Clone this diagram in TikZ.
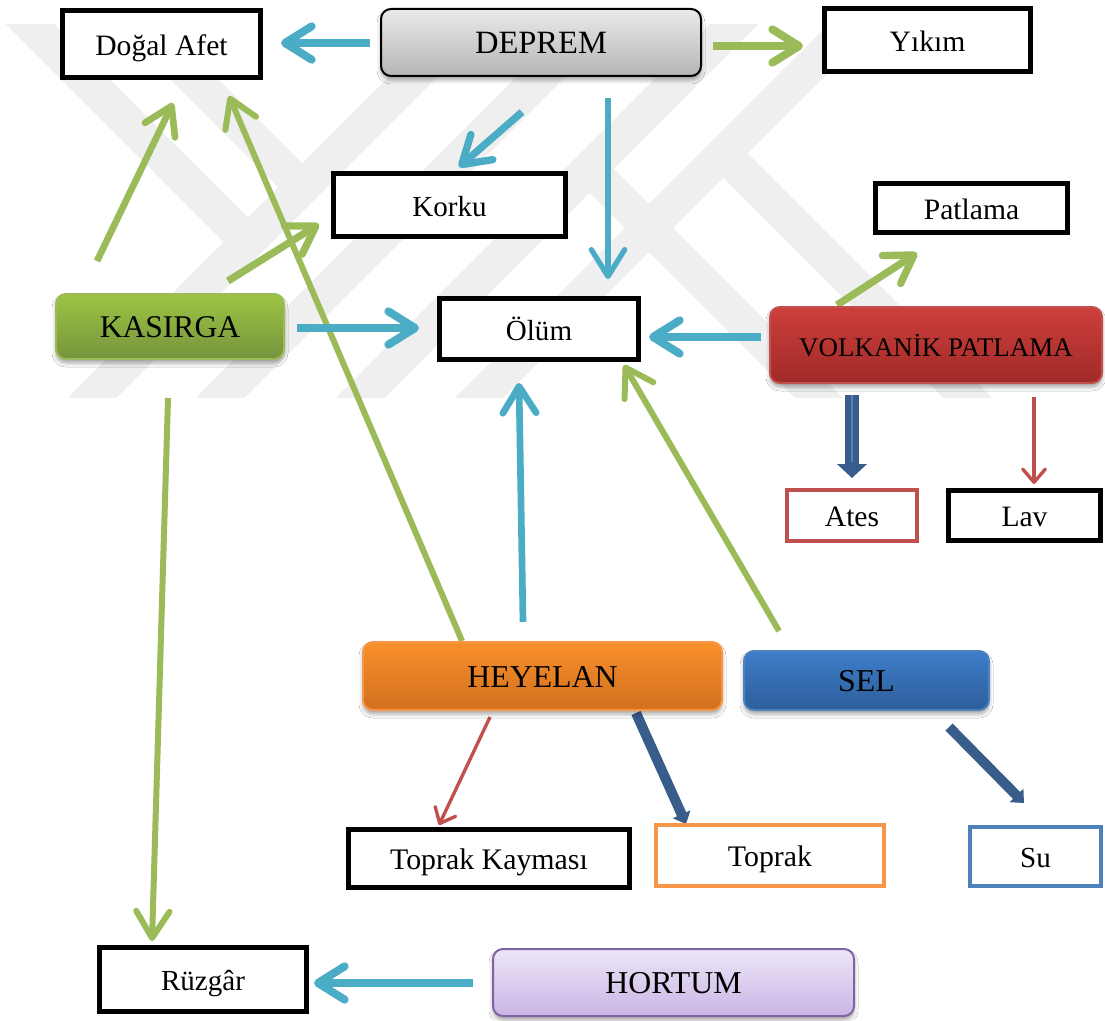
\documentclass[tikz,border=0pt]{standalone}
\usepackage{fontspec}
\setmainfont{Liberation Serif}
\usetikzlibrary{arrows.meta,calc,shadows.blur}

\definecolor{wmgray}{RGB}{239,239,239}
\definecolor{arrblue}{RGB}{75,172,198}
\definecolor{arrgreen}{RGB}{155,187,89}
\definecolor{navyarr}{RGB}{56,93,138}
\definecolor{navyhi}{RGB}{79,129,189}
\definecolor{arrred}{RGB}{192,80,77}
\definecolor{grayTop}{RGB}{234,234,234}
\definecolor{grayBot}{RGB}{181,181,181}
\definecolor{grnTop}{RGB}{157,197,68}
\definecolor{grnBot}{RGB}{118,147,60}
\definecolor{grnLine}{RGB}{155,187,89}
\definecolor{redTop}{RGB}{205,63,60}
\definecolor{redBot}{RGB}{160,42,40}
\definecolor{redLine}{RGB}{192,80,77}
\definecolor{orgTop}{RGB}{249,144,44}
\definecolor{orgBot}{RGB}{210,111,30}
\definecolor{orgLine}{RGB}{247,150,70}
\definecolor{bluTop}{RGB}{62,125,201}
\definecolor{bluBot}{RGB}{46,94,155}
\definecolor{bluLine}{RGB}{79,129,189}
\definecolor{purTop}{RGB}{237,230,247}
\definecolor{purBot}{RGB}{201,181,230}
\definecolor{purLine}{RGB}{128,100,162}

\newcommand\txtS{\fontsize{22.2pt}{26pt}\selectfont}
\newcommand\txtM{\fontsize{21.8pt}{26pt}\selectfont}
\newcommand\txtT{\fontsize{22.4pt}{26pt}\selectfont}
\newcommand\txtL{\fontsize{23.9pt}{28pt}\selectfont}
\newcommand\txtD{\fontsize{24.4pt}{28pt}\selectfont}
\newcommand\txtK{\fontsize{23.7pt}{28pt}\selectfont}
\newcommand\txtV{\fontsize{20.2pt}{24pt}\selectfont}

\pgfdeclarelayer{wmark}
\pgfdeclarelayer{links}
\pgfsetlayers{wmark,links,main}

\tikzset{
  boxtext/.style={inner sep=0pt, text height=17pt, text depth=0pt},
  blackbox/.style={boxtext, draw=black, line width=3.75pt, fill=white},
  framebox/.style={boxtext, draw=#1, line width=3pt, fill=white},
  roundbox/.style n args={3}{boxtext, draw=#1, line width=1.5pt, rounded corners=7.5pt,
    top color=#2, bottom color=#3,
    blur shadow={shadow xshift=0pt, shadow yshift=-3pt, shadow opacity=35,
      shadow blur radius=3pt}},
  wband/.style={wmgray, line width=25.5pt},
  fat/.style={line width=#1, -{Straight Barb[length=20pt, width=25pt, round]}},
  thin/.style={arrred, line width=2.5pt, -{Straight Barb[length=10pt, width=17pt, round]}},
  navy/.style={navyarr, line width=#1, -{Triangle[length=8pt, width=14pt]}},
}

\begin{document}
\begin{tikzpicture}[x=0.75pt, y=-0.75pt]
\useasboundingbox (0,0) rectangle (1105,1020);

% ---------- boxes ----------
\node[blackbox, minimum width=148.5pt, minimum height=50.25pt, font=\txtS] (doga) at (161.5,44) {Doğal Afet};
\node[roundbox={black}{grayTop}{grayBot}, minimum width=240pt, minimum height=50.25pt, font=\txtD] (dep) at (541,42.5) {DEPREM};
\node[blackbox, minimum width=154.5pt, minimum height=47.25pt, font=\txtS] (yik) at (927.5,40) {Yıkım};
\node[blackbox, minimum width=174pt, minimum height=47.25pt, font=\txtM] (kor) at (449.5,205) {Korku};
\node[blackbox, minimum width=144pt, minimum height=36.75pt, font=\txtS] (pat) at (971.5,208) {Patlama};
\node[roundbox={grnLine}{grnTop}{grnBot}, minimum width=171pt, minimum height=48.75pt, font=\txtK] (kas) at (170,326.5) {KASIRGA};
\node[blackbox, minimum width=149.25pt, minimum height=45.75pt, font=\txtM] (olum) at (539,329) {Ölüm};
\node[roundbox={redLine}{redTop}{redBot}, minimum width=249pt, minimum height=57pt, font=\txtV] (volk) at (936,345) {VOLKANİK PATLAMA};
\node[framebox=redLine, minimum width=97.5pt, minimum height=38.25pt, font=\txtS] (ates) at (852,515.5) {Ates};
\node[blackbox, minimum width=114pt, minimum height=37.5pt, font=\txtS] (lav) at (1024.5,515.5) {Lav};
\node[roundbox={orgLine}{orgTop}{orgBot}, minimum width=269.25pt, minimum height=51pt, font=\txtL] (hey) at (542.5,676) {HEYELAN};
\node[roundbox={bluLine}{bluTop}{bluBot}, minimum width=183.75pt, minimum height=44.25pt, font=\txtL] (sel) at (866.5,680.5) {SEL};
\node[blackbox, minimum width=210.75pt, minimum height=43.5pt, font=\txtT] (tk) at (489,858.5) {Toprak Kayması};
\node[framebox=orgLine, minimum width=171pt, minimum height=45.75pt, font=\txtT] (top) at (770,855.5) {Toprak};
\node[framebox=bluLine, minimum width=98.25pt, minimum height=44.25pt, font=\txtM] (su) at (1035.5,856.5) {Su};
\node[blackbox, minimum width=155.25pt, minimum height=48pt, font=\txtM] (ruz) at (203,979.5) {Rüzgâr};
\node[roundbox={purLine}{purTop}{purBot}, minimum width=270.75pt, minimum height=50.25pt, font=\txtL] (hor) at (673.5,982.5) {HORTUM};

% ---------- watermark bands ----------
\begin{pgfonlayer}{wmark}
  \fill[white] (0,0) rectangle (1105,1020);
  \begin{scope}
    \clip (0,25) rectangle (1010,397);
    % rising bands
    \draw[wband] (40,450) -- (510,-20);
    \draw[wband] (168,450) -- (638,-20);
    \draw[wband] (308,450) -- (778,-20);
    \draw[wband] (427,450) -- (897,-20);
    % falling bands
    \draw[wband] (-14,-20) -- (248,242);
    \draw[wband] (95,-20) -- (302.5,187.5);
    \draw[wband] (589.5,168.5) -- (871,450);
    \draw[wband] (723.5,153.5) -- (1020,450);
  \end{scope}
\end{pgfonlayer}

% ---------- connectors ----------
\begin{pgfonlayer}{links}
  \draw[fat=6pt, arrblue] ($(dep.west)+(-10,0.5)$) -- ($(doga.east)+(18,-1)$);
  \draw[fat=6pt, arrgreen] ($(dep.east)+(11,3.5)$) -- ($(yik.west)+(-19,6)$);
  \draw[fat=5.5pt, arrblue] ($(dep.south)+(-19,35)$) -- ($(kor.north)+(9.5,-4)$);
  \draw[fat=4pt, arrblue] ($(dep.south)+(67,21)$) -- ($(olum.north)+(69,-17)$);
  \draw[fat=5pt, arrgreen] ($(kas.north)+(-73,-32)$) -- ($(doga.south)+(11.5,23)$);
  \draw[fat=5.5pt, arrgreen] ($(kas.north)+(58,-12)$) -- ($(kor.west)+(-12,19)$);
  \draw[fat=4.5pt, arrgreen] ($(hey.north)+(-80.5,0)$) -- ($(doga.south)+(67.5,16)$);
  \draw[fat=6pt, arrblue] ($(kas.east)+(12,1.5)$) -- ($(olum.west)+(-18,-1)$);
  \draw[fat=4.5pt, arrgreen] ($(kas.south)+(-2,38)$) -- ($(ruz.north)+(-51,-4)$);
  \draw[fat=6pt, arrblue] ($(volk.west)+(-8,-8)$) -- ($(olum.east)+(8,8)$);
  \draw[fat=5.5pt, arrgreen] ($(volk.north)+(-99,-1)$) -- ($(pat.south)+(-54.5,18)$);
  \draw[fat=5pt, arrblue] ($(hey.north)+(-19.5,-19)$) -- ($(olum.south)+(-20,21)$);
  \draw[fat=4.5pt, arrgreen] ($(sel.north)+(-87.5,-19)$) -- ($(olum.south east)+(-17,3)$);
  \draw[fat=6pt, arrblue] ($(hor.west)+(-19,0.5)$) -- ($(ruz.east)+(5,3.5)$);
  % thin red links
  \draw[thin] ($(volk.south)+(98,13)$) -- ($(lav.north)+(9.5,-4)$);
  \draw[thin] ($(hey.south)+(-52.5,6)$) -- ($(tk.north)+(-50,-2)$);
  % navy links
  \draw[navyarr, line width=10.5pt, -{Triangle[length=10.5pt, width=22pt]}]
    ($(volk.south)+(-84,11)$) -- ($(ates.north)+(0,-10)$);
  \draw[navyhi, line width=1.5pt] ($(volk.south)+(-84,11)$) -- ($(ates.north)+(0,-26)$);
  \draw[navy=7.5pt] ($(hey.south)+(93.5,2)$) -- ($(top.north)+(-84,1)$);
  \draw[navy=7.5pt] ($(sel.south)+(82.5,16)$) -- ($(su.north)+(-11.5,-22)$);
\end{pgfonlayer}
\end{tikzpicture}
\end{document}
